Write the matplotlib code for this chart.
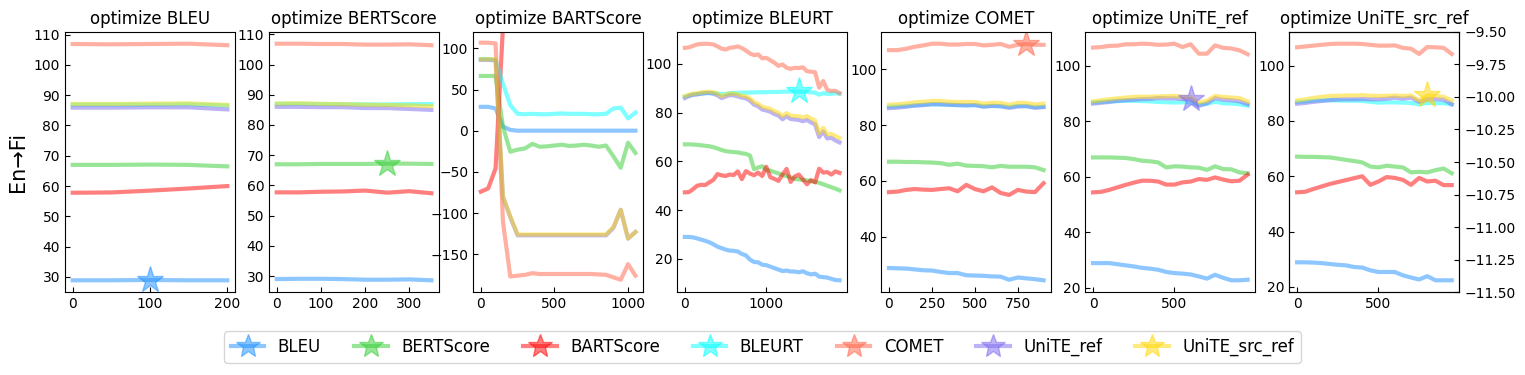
import numpy as np
import matplotlib
matplotlib.use('Agg')
import matplotlib.pyplot as plt
from matplotlib.lines import Line2D

metrics = ['BLEU', 'BERTScore', 'BARTScore', 'BLEURT', 'COMET', 'UniTE_ref', 'UniTE_src_ref']
colors = ['dodgerblue', 'limegreen', 'red', 'cyan', 'tomato', 'mediumslateblue', 'gold']

# x = training steps, one list of 7 score curves per optimized metric (order as `metrics`)
steps_bleu = np.arange(0, 201, 50)
scores_bleu = [
    [28.9, 28.9, 29.0, 28.9, 28.9],
    [67.0, 67.0, 67.1, 67.0, 66.5],
    [57.8, 57.9, 58.5, 59.2, 60.0],
    [86.9, 86.9, 86.9, 87.0, 86.6],
    [106.9, 106.8, 106.9, 107.0, 106.5],
    [85.9, 85.9, 86.0, 86.0, 85.3],
    [87.1, 87.1, 87.2, 87.3, 86.8],
]

steps_bertscore = np.arange(0, 351, 50)
scores_bertscore = [
    [29.0, 29.1, 29.1, 29.0, 28.8, 28.8, 28.9, 28.6],
    [67.0, 67.0, 67.1, 67.1, 67.1, 67.2, 67.2, 67.1],
    [57.7, 57.7, 57.9, 58.0, 58.3, 57.6, 58.1, 57.4],
    [87.0, 87.0, 86.9, 86.9, 86.8, 86.8, 86.9, 86.9],
    [106.9, 106.9, 106.8, 106.8, 106.6, 106.6, 106.7, 106.4],
    [86.0, 86.0, 85.9, 85.9, 85.6, 85.6, 85.3, 85.0],
    [87.1, 87.2, 87.0, 86.9, 86.7, 86.6, 86.5, 86.2],
]

steps_bartscore = np.arange(0, 1051, 50)
scores_bartscore = [
    [29, 29, 27, 5, 1, 0, 0, 0, 0, 0, 0, 0, 0, 0, 0, 0, 0, 0, 0, 0, 0, 0],
    [66.5, 66.5, 66.4, 5, -25.5, -23, -21.5, -16, -19.5, -19, -18, -17, -18.5, -18, -17, -18, -19.5, -18, -31, -45, -14.6, -27],
    [-74, -70, -46, 125, 350, 350, 350, 350, 350, 350, 350, 350, 350, 350, 350, 350, 350, 350, 350, 350, 350, 350],
    [87, 87, 86, 57, 31, 20.5, 20, 20.5, 20, 20, 20.5, 21, 20.5, 20.5, 20.5, 20, 20, 20.5, 27, 28, 15, 22],
    [106.9, 106.8, 106.0, -110, -177, -176, -175, -173, -174, -174, -174, -174, -174, -174, -174, -174, -174.5, -175, -178, -181, -162, -176],
    [86, 86, 85.5, -80, -105, -127, -127, -127, -127, -127, -127, -127, -127, -127, -127, -127, -127, -127, -118, -96, -131, -123],
    [86.8, 86.8, 86.6, -80, -104, -126, -126, -126, -126, -126, -126, -126, -126, -126, -126, -126, -126, -126, -117, -96, -131, -123],
]

steps_bleurt = np.arange(0, 1901, 50)
scores_bleurt = [
    [29.0, 29.0, 28.8, 28.4, 27.9, 27.4, 26.8, 26.0, 25.0, 24.4, 23.8, 23.4, 23.3, 23.0, 22.0, 21.4, 19.7, 18.7, 18.6, 17.6,
     17.4, 16.8, 16.2, 15.6, 15.0, 15.2, 14.8, 14.8, 14.5, 14.9, 14.1, 13.6, 13.9, 12.7, 12.5, 12.3, 11.8, 11.3, 11.2],
    [67.0, 67.0, 66.9, 66.8, 66.6, 66.4, 66.2, 65.8, 65.3, 64.7, 64.2, 64.0, 63.8, 63.7, 63.3, 63.1, 62.4, 56.8, 57.5, 58.0,
     56.6, 56.2, 55.6, 55.1, 54.4, 54.0, 53.4, 52.8, 52.6, 52.4, 52.2, 52.0, 51.6, 51.2, 50.6, 50.0, 49.4, 48.8, 48.1],
    [47.3, 47.4, 48.6, 50.0, 50.4, 50.3, 51.4, 52.4, 54.8, 54.3, 54.0, 54.6, 54.4, 55.9, 52.7, 56.0, 55.0, 54.3, 55.4, 54.0,
     57.8, 53.5, 52.8, 52.0, 54.6, 56.9, 51.6, 53.8, 54.6, 52.6, 50.6, 52.3, 51.4, 57.0, 55.4, 55.6, 54.6, 55.9, 55.3],
    [86.6, 87.0, 87.5, 87.6, 87.8, 88.0, 88.0, 88.0, 87.8, 87.7, 87.6, 88.0, 88.1, 88.1, 88.2, 88.2, 88.3, 88.3, 88.4, 88.4,
     88.4, 88.5, 88.5, 88.5, 88.6, 88.6, 88.6, 88.7, 88.7, 88.6, 88.5, 88.3, 88.2, 87.4, 88.0, 87.7, 87.8, 87.9, 87.8],
    [106.6, 106.8, 107.4, 108.0, 108.2, 108.3, 108.2, 108.0, 107.2, 106.3, 105.9, 106.6, 106.8, 107.2, 106.5, 105.5, 104.3, 103.6, 103.9, 102.3,
     102.5, 101.5, 100.5, 99.2, 99.8, 98.4, 98.0, 98.4, 98.3, 98.6, 97.0, 96.8, 96.6, 90.3, 93.0, 89.3, 88.9, 89.0, 88.0],
    [86.0, 86.8, 87.3, 87.5, 87.8, 88.0, 88.1, 87.8, 87.1, 86.0, 86.6, 87.2, 87.1, 86.7, 86.2, 85.9, 84.9, 83.3, 82.6, 81.3,
     80.9, 80.4, 79.4, 78.8, 77.3, 78.5, 77.4, 77.2, 77.0, 76.5, 77.0, 76.0, 75.2, 70.0, 72.3, 69.4, 69.7, 68.6, 67.8],
    [86.8, 87.4, 87.8, 88.0, 88.3, 88.5, 88.6, 88.4, 87.8, 86.8, 87.3, 87.9, 87.8, 87.5, 87.0, 86.7, 85.8, 84.3, 83.6, 82.4,
     82.0, 81.6, 80.6, 80.0, 78.6, 79.8, 78.8, 78.6, 78.5, 78.0, 78.6, 77.6, 76.8, 71.5, 73.8, 71.0, 71.3, 70.4, 69.6],
]

steps_comet = np.arange(0, 901, 50)
scores_comet = [
    [28.8, 28.7, 28.6, 28.3, 28.0, 27.9, 27.4, 27.0, 27.0, 26.2, 26.1, 26.0, 25.8, 25.7, 24.6, 25.4, 25.1, 24.8, 24.4],
    [66.9, 66.9, 66.8, 66.8, 66.7, 66.6, 66.4, 65.8, 66.2, 65.5, 65.4, 65.3, 64.9, 65.4, 65.1, 65.1, 65.1, 64.9, 63.9],
    [56.0, 56.2, 56.8, 57.1, 56.9, 56.8, 57.1, 57.4, 56.3, 58.6, 57.1, 56.3, 57.7, 55.7, 55.0, 56.8, 56.2, 56.0, 59.2],
    [86.6, 86.7, 86.9, 87.1, 87.3, 87.5, 87.4, 87.3, 87.2, 87.1, 87.2, 86.8, 86.9, 86.8, 86.5, 86.9, 86.8, 86.5, 86.6],
    [106.9, 106.9, 107.4, 108.1, 108.6, 109.2, 109.2, 108.9, 108.9, 109.1, 109.1, 108.6, 108.8, 109.1, 108.1, 108.8, 109.1, 108.8, 108.8],
    [86.1, 86.3, 86.6, 87.0, 87.2, 87.5, 87.5, 87.3, 87.2, 87.1, 87.2, 86.6, 86.9, 86.8, 86.2, 86.7, 86.8, 86.2, 86.5],
    [87.3, 87.5, 87.8, 88.2, 88.4, 88.7, 88.7, 88.4, 88.3, 88.3, 88.3, 87.7, 88.0, 88.0, 87.3, 88.0, 88.0, 87.4, 87.7],
]

steps_unite_ref = np.arange(0, 951, 50)
scores_unite_ref = [
    [28.9, 28.9, 28.9, 28.5, 28.1, 27.7, 27.2, 26.9, 26.5, 25.7, 25.3, 25.1, 24.8, 24.1, 23.3, 24.7, 23.6, 22.7, 22.7, 22.9],
    [67.0, 67.0, 67.0, 66.9, 66.8, 66.4, 65.8, 65.6, 65.2, 63.4, 63.8, 63.7, 63.4, 63.3, 62.5, 63.8, 62.8, 62.7, 61.6, 61.3],
    [54.4, 54.6, 55.3, 56.2, 57.1, 57.9, 58.6, 58.6, 58.3, 57.2, 57.2, 58.0, 58.3, 59.2, 58.9, 59.8, 59.0, 58.4, 58.6, 60.8],
    [86.8, 87.0, 87.2, 87.3, 87.4, 87.4, 87.3, 87.2, 87.0, 86.9, 86.8, 86.9, 86.8, 86.0, 86.3, 87.1, 86.5, 86.4, 86.2, 85.6],
    [106.6, 106.8, 107.2, 107.3, 107.8, 107.8, 108.0, 107.9, 107.6, 107.7, 108.0, 106.8, 107.8, 104.4, 104.4, 107.4, 106.5, 106.3, 105.6, 104.2],
    [86.4, 86.7, 87.0, 87.4, 87.6, 87.8, 88.0, 88.1, 88.4, 88.3, 88.3, 88.0, 88.0, 85.6, 86.5, 88.4, 87.8, 87.6, 87.2, 86.2],
    [87.2, 87.6, 88.0, 88.3, 88.6, 88.8, 88.9, 88.9, 89.0, 89.1, 89.2, 88.8, 88.8, 86.8, 87.4, 89.2, 88.8, 88.6, 88.4, 87.2],
]

steps_unite_src_ref = np.arange(0, 951, 50)
scores_unite_src_ref = [
    [28.9, 28.9, 28.8, 28.6, 28.3, 28.0, 27.8, 27.2, 27.0, 26.0, 25.4, 25.4, 25.4, 24.2, 23.4, 22.7, 23.9, 22.4, 22.4, 22.4],
    [67.1, 67.0, 67.0, 66.9, 66.8, 66.4, 65.9, 65.5, 65.0, 63.5, 63.2, 63.8, 63.5, 63.2, 61.4, 61.6, 61.4, 62.2, 62.8, 61.1],
    [54.2, 54.4, 55.4, 56.3, 57.2, 57.9, 58.6, 59.3, 60.0, 56.9, 58.1, 59.7, 59.4, 58.7, 56.9, 59.4, 58.1, 58.4, 56.8, 56.8],
    [86.8, 87.0, 87.3, 87.4, 87.5, 87.4, 87.3, 87.3, 87.2, 86.9, 86.6, 86.7, 86.7, 86.6, 86.5, 86.0, 86.5, 86.4, 86.4, 86.0],
    [106.6, 106.9, 107.2, 107.5, 107.8, 107.9, 107.9, 107.9, 107.8, 107.5, 107.2, 107.2, 107.3, 106.4, 106.1, 104.2, 106.7, 106.6, 106.4, 104.2],
    [86.2, 86.5, 86.9, 87.2, 87.5, 87.7, 87.8, 87.8, 87.9, 87.8, 87.8, 88.0, 88.4, 88.0, 88.4, 86.9, 87.8, 87.8, 87.7, 86.0],
    [87.4, 87.8, 88.3, 88.7, 89.0, 89.1, 89.2, 89.2, 89.3, 89.1, 89.0, 89.1, 89.2, 89.0, 89.2, 87.4, 89.2, 89.0, 88.7, 87.4],
]

# selected checkpoint (star) for each optimized metric
best_steps = [100, 250, 200, 1400, 800, 600, 800]

all_steps = [steps_bleu, steps_bertscore, steps_bartscore, steps_bleurt,
             steps_comet, steps_unite_ref, steps_unite_src_ref]
all_scores = [scores_bleu, scores_bertscore, scores_bartscore, scores_bleurt,
              scores_comet, scores_unite_ref, scores_unite_src_ref]

fig, axes = plt.subplots(1, 7, figsize=(15.25, 3.75), dpi=100)
fig.subplots_adjust(left=0.0426, right=0.957, top=0.915, bottom=0.221, wspace=0.2)

for k, ax in enumerate(axes):
    x = all_steps[k]
    for i, (name, c) in enumerate(zip(metrics, colors)):
        ax.plot(x, all_scores[k][i], color=c, alpha=0.5, lw=3)
    # star on the optimized metric
    j = list(x).index(best_steps[k])
    ax.plot(best_steps[k], all_scores[k][k][j], marker='*', ms=20,
            color=colors[k], alpha=0.5, ls='none')
    ax.set_title('optimize ' + metrics[k], fontsize=12)
    ax.tick_params(direction='in')

axes[2].set_ylim(-196, 120)
axes[0].set_ylabel('En→Fi', fontsize=15)

twin = axes[6].twinx()
twin.set_ylim(-11.5, -9.5)
twin.tick_params(direction='in')

handles = [Line2D([], [], color=c, alpha=0.5, lw=3, marker='*', ms=18) for c in colors]
fig.legend(handles, metrics, loc='lower center', bbox_to_anchor=(0.5, 0.01),
           ncol=7, fontsize=12)

fig.savefig('out.png')
